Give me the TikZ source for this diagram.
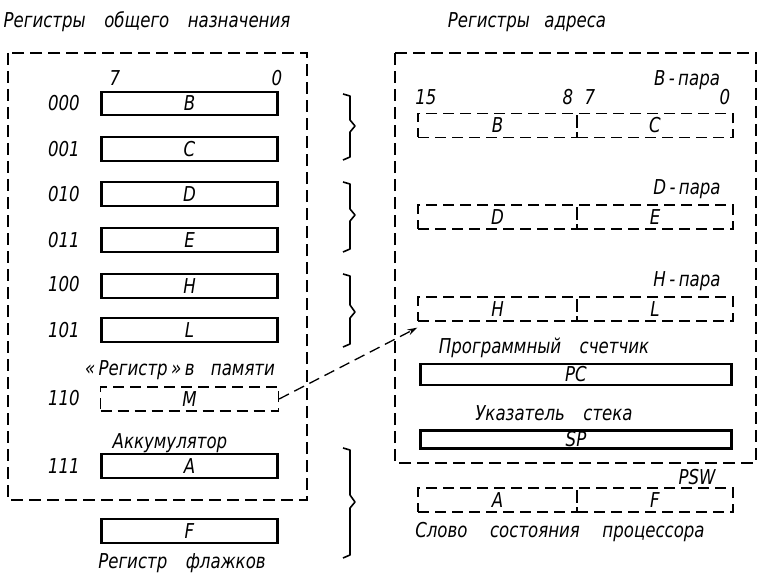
\documentclass[tikz,border=0pt]{standalone}
\usepackage{fontspec}
\setmainfont{DejaVu Sans Condensed}[FakeStretch=0.9]
\usetikzlibrary{arrows.meta}
\begin{document}
\begin{tikzpicture}[x=1pt,y=-1pt,
  every node/.style={font=\fontsize{20.5}{22}\selectfont\itshape},
  reg/.style={draw,line width=2.2pt,minimum width=176pt,minimum height=23.5pt,inner sep=0pt},
  mreg/.style={draw,dashed,dash pattern=on 11pt off 6pt,line width=1.3pt,minimum width=178pt,minimum height=24pt,inner sep=0pt},
  half/.style={draw,dashed,dash pattern=on 11pt off 6pt,line width=1.3pt,minimum height=24pt,inner sep=0pt},
  wide/.style={draw,line width=2.2pt,minimum width=311pt,inner sep=0pt},
  frame/.style={dashed,dash pattern=on 12pt off 6pt,line width=1.5pt},
  brace/.style={line width=1.6pt,line join=round},
  lbl/.style={inner sep=0pt}]
\useasboundingbox (0,0) rectangle (758,575);

% titles
\node[lbl] (t1) at (147,22) {Регистры\hspace{0.9em}общего\hspace{0.9em}назначения};
\node[lbl] (t2) at (527,22) {Регистры\hspace{0.7em}адреса};

% general purpose register file
\draw[frame] (8,53) rectangle (307,500);
\node[lbl] (b7) at (115,78) {7};
\node[lbl] (b0) at (277,78) {0};

\node[reg] (rB) at (189.5,103.5) {B};
\node[reg] (rC) at (189.5,149) {C};
\node[reg] (rD) at (189.5,194) {D};
\node[reg] (rE) at (189.5,240) {E};
\node[reg] (rH) at (189.5,286) {H};
\node[reg] (rL) at (189.5,330) {L};
\node[mreg] (rM) at (189.5,399) {M};
\node[reg] (rA) at (189.5,466) {A};
\node[reg] (rF) at (189.5,531) {F};

\node[lbl,anchor=east] (cB) at (80,103.5) {000};
\node[lbl,anchor=east] (cC) at (80,149) {001};
\node[lbl,anchor=east] (cD) at (80,194) {010};
\node[lbl,anchor=east] (cE) at (80,240) {011};
\node[lbl,anchor=east] (cH) at (80,284) {100};
\node[lbl,anchor=east] (cL) at (80,330) {101};
\node[lbl,anchor=east] (cM) at (80,398) {110};
\node[lbl,anchor=east] (cA) at (80,466) {111};

\node[lbl] (mem) at (180,370) {\guillemotleft\,Регистр\,\guillemotright\,в\hspace{0.8em}памяти};
\node[lbl] (acc) at (170,443) {Аккумулятор};
\node[lbl] (flg) at (182,563) {Регистр\hspace{0.9em}флажков};

% pair braces
\draw[brace] (343,94) -- (350,96) -- (350,120) -- (355,126) -- (350,132) -- (350,157) -- (343,160);
\draw[brace] (343,182) -- (350,184) -- (350,209) -- (355,215) -- (350,221) -- (350,249) -- (343,252);
\draw[brace] (343,274) -- (350,276) -- (350,305) -- (355,312) -- (350,318) -- (350,344) -- (343,347);
\draw[brace] (343,448) -- (350,450) -- (350,495) -- (355,502) -- (350,508) -- (350,555) -- (343,558);

% address register file
\draw[frame] (395,53) -- (756,53) -- (756,463) -- (395,463) -- cycle;
\node[lbl] (pB) at (687,80) {B\,-\,пара};
\node[lbl] (n15) at (426,97) {15};
\node[lbl] (n8) at (568,97) {8};
\node[lbl] (n7) at (590,97) {7};
\node[lbl] (n0) at (725,97) {0};

\node[half,minimum width=159pt] (pb) at (497.5,125.5) {B};
\node[half,minimum width=156pt] (pc) at (655,125.5) {C};
\node[lbl] (pD) at (687,189) {D\,-\,пара};
\node[half,minimum width=159pt] (pd) at (497.5,217) {D};
\node[half,minimum width=156pt] (pe) at (655,217) {E};
\node[lbl] (pH) at (687,281) {H\,-\,пара};
\node[half,minimum width=159pt] (ph) at (497.5,309) {H};
\node[half,minimum width=156pt] (pl) at (655,309) {L};

\node[lbl] (pcl) at (544,348) {Программный\hspace{0.9em}счетчик};
\node[wide,minimum height=21pt] (PC) at (576,374.5) {PC};
\node[lbl] (spl) at (554,413) {Указатель\hspace{0.9em}стека};
\node[wide,minimum height=18pt] (SP) at (576,439.5) {SP};

% processor status word
\node[lbl] (psw) at (697,477) {PSW};
\node[half,minimum width=159pt] (wa) at (497.5,500) {A};
\node[half,minimum width=156pt] (wf) at (655,500) {F};
\node[lbl] (swl) at (560,532) {Слово\hspace{1.1em}состояния\hspace{1.1em}процессора};

% memory operand addressed through HL
\coordinate (tip) at ([yshift=-6pt]ph.south west);
\draw[dashed,dash pattern=on 11pt off 6pt,line width=1.3pt,-{Stealth[length=10pt,width=6pt]}] (rM.east) -- (tip);
\end{tikzpicture}
\end{document}
